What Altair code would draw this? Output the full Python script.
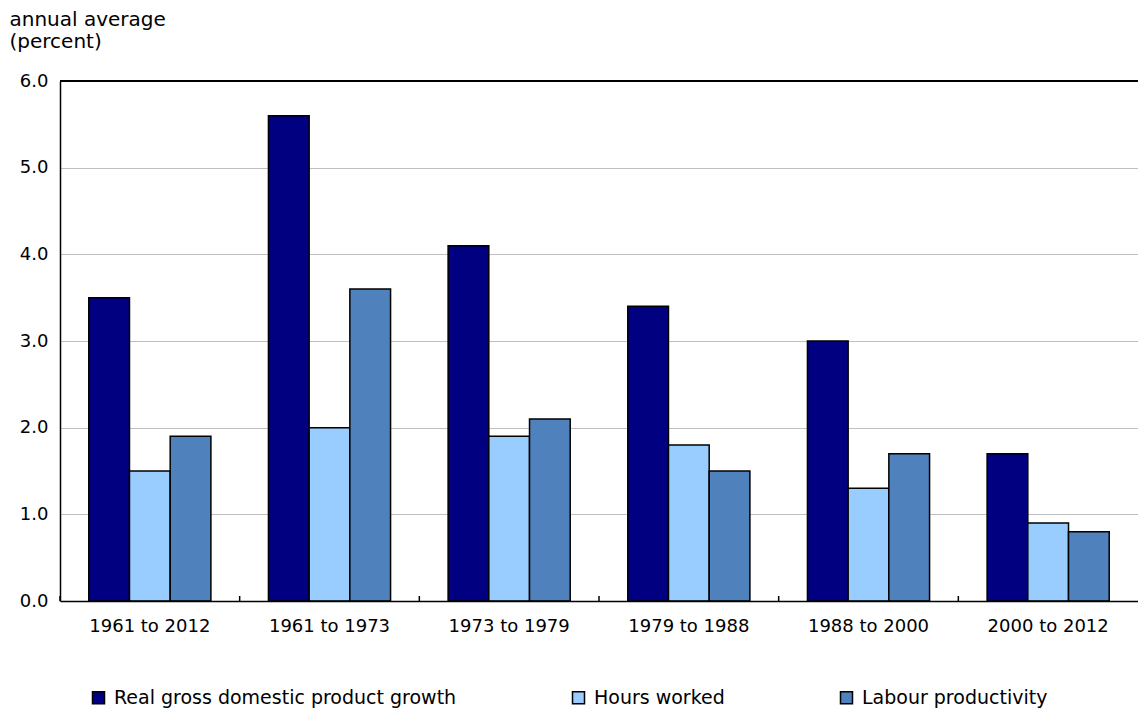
import altair as alt
import pandas as pd

# Periods (categories) and the three series, in percent (annual average)
periods = ["1961 to 2012", "1961 to 1973", "1973 to 1979",
           "1979 to 1988", "1988 to 2000", "2000 to 2012"]
series = ["Real gross domestic product growth", "Hours worked", "Labour productivity"]
gdp_growth = [3.5, 5.6, 4.1, 3.4, 3.0, 1.7]
hours_worked = [1.5, 2.0, 1.9, 1.8, 1.3, 0.9]
labour_productivity = [1.9, 3.6, 2.1, 1.5, 1.7, 0.8]
y_ticks = [0, 1, 2, 3, 4, 5, 6]
colors = ["#000080", "#99CCFF", "#4F81BD"]

rows = []
for name, vals in zip(series, [gdp_growth, hours_worked, labour_productivity]):
    for p, v in zip(periods, vals):
        rows.append({"period": p, "series": name, "value": v})
df = pd.DataFrame(rows)
period_df = pd.DataFrame({"period": periods})

W, H = 1078, 520
FONT = "DejaVu Sans"


def x_enc(**kw):
    return alt.X(
        "period:N", sort=periods,
        scale=alt.Scale(paddingInner=0, paddingOuter=0),
        axis=alt.Axis(title=None, labelAngle=0, ticks=False, grid=False,
                      domainColor="black", domainWidth=1.5, zindex=1,
                      labelFont=FONT, labelFontSize=18, labelColor="black",
                      labelPadding=16),
        **kw,
    )


y_enc = alt.Y(
    "value:Q",
    scale=alt.Scale(domain=[0, 6], nice=False),
    axis=alt.Axis(
        values=y_ticks, format=".1f", ticks=False,
        grid=True, gridColor="#C0C0C0", gridWidth=1,
        domainColor="black", domainWidth=1.5,
        labelFont=FONT, labelFontSize=18, labelColor="black", labelPadding=12,
        title=["annual average", "(percent)"], titleAngle=0,
        titleAlign="left", titleBaseline="top", titleX=-51, titleY=-72,
        titleFont=FONT, titleFontSize=20, titleFontWeight="normal",
        titleColor="black", titleLineHeight=22,
    ),
)

bars = alt.Chart(df).mark_bar(stroke="black", strokeWidth=1.5).encode(
    x=x_enc(),
    xOffset=alt.XOffset("series:N", sort=series,
                        scale=alt.Scale(paddingOuter=0.707, paddingInner=0)),
    y=y_enc,
    color=alt.Color(
        "series:N", sort=series,
        scale=alt.Scale(domain=series, range=colors),
        legend=alt.Legend(
            orient="none", legendX=29, legendY=607, direction="horizontal",
            title=None, symbolType="square", symbolSize=144,
            symbolStrokeColor="black", symbolStrokeWidth=1.5, symbolOpacity=1,
            labelFont=FONT, labelFontSize=19, labelColor="black",
            labelOffset=6, labelLimit=600, columnPadding=112, padding=0,
        ),
    ),
)

# small inward ticks at the boundaries between periods
ticks = alt.Chart(period_df).mark_rule(color="black", strokeWidth=1.5).encode(
    x=x_enc(bandPosition=0),
    y=alt.value(H),
    y2=alt.value(H - 5),
)

# top border of the plot area
top_line = alt.Chart(period_df).mark_rule(color="black", strokeWidth=1.5).encode(
    x=alt.value(0), x2=alt.value(W), y=alt.value(0)
)

chart = alt.layer(bars, ticks, top_line).properties(
    width=W, height=H,
    autosize=alt.AutoSizeParams(type="none"),
    padding={"left": 60, "top": 81, "right": 0, "bottom": 107},
    background="white",
).configure_view(stroke=None)

chart.save("out.html", embed_options={"renderer": "svg", "actions": False})
